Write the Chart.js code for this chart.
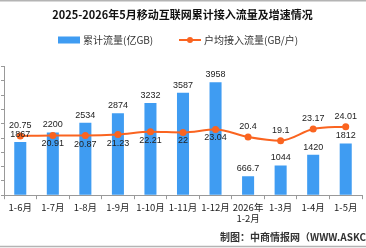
<!DOCTYPE html>
<html>
<head>
<meta charset="utf-8">
<script src="https://cdn.jsdelivr.net/npm/chart.js@4/dist/chart.umd.min.js"></script>
<style>
  html, body { margin: 0; padding: 0; background: #fff; }
  #wrap { width: 366px; height: 248px; position: relative; }
</style>
</head>
<body>
<div id="wrap"><canvas id="chart"></canvas></div>
<script>
// data
const categories = ['1-6月', '1-7月', '1-8月', '1-9月', '1-10月', '1-11月', '1-12月', ['2026年', '1-2月'], '1-3月', '1-4月', '1-5月'];
const trafficValues = [1867, 2200, 2534, 2874, 3232, 3587, 3958, 666.7, 1044, 1420, 1812];
const perUserValues = [20.75, 20.91, 20.87, 21.23, 22.21, 22, 23.04, 20.4, 19.1, 23.17, 24.01];
const seriesNames = ['累计流量(亿GB)', '户均接入流量(GB/户)'];
const titleText = '2025-2026年5月移动互联网累计接入流量及增速情况';
const footerText = '制图：中商情报网（WWW.ASKCI.COM）';

const BAR_COLOR = '#3f9cf2';
const LINE_COLOR = '#fa6420';
const FONT = '"Noto Sans CJK SC", "Liberation Sans", sans-serif';
const NUM_FONT = '"Liberation Sans", sans-serif';

// which line labels sit above the point (others go below)
const lineLabelAbove = [true, false, false, false, false, false, false, true, true, true, true];

const valueLabels = {
  id: 'valueLabels',
  afterDatasetsDraw(chart) {
    const ctx = chart.ctx;
    ctx.save();
    ctx.font = '9px ' + NUM_FONT;
    ctx.fillStyle = '#222';
    ctx.textAlign = 'center';
    chart.getDatasetMeta(0).data.forEach((el, i) => {
      ctx.textBaseline = 'bottom';
      ctx.fillText(String(trafficValues[i]), el.x, el.y - 3);
    });
    chart.getDatasetMeta(1).data.forEach((el, i) => {
      if (lineLabelAbove[i]) {
        ctx.textBaseline = 'bottom';
        ctx.fillText(String(perUserValues[i]), el.x, el.y - 6);
      } else {
        ctx.textBaseline = 'top';
        ctx.fillText(String(perUserValues[i]), el.x, el.y + 4);
      }
    });
    ctx.restore();
  }
};

// legend, frame lines and source note
const frame = {
  id: 'frame',
  beforeDraw(chart) {
    const ctx = chart.ctx;
    ctx.save();
    ctx.fillStyle = '#fff';
    ctx.fillRect(0, 0, chart.width, chart.height);
    ctx.restore();
  },
  afterDraw(chart) {
    const ctx = chart.ctx;
    ctx.save();
    ctx.strokeStyle = '#b4b4b4';
    ctx.lineWidth = 1.5;
    ctx.beginPath();
    ctx.moveTo(0, 0.75); ctx.lineTo(chart.width, 0.75);
    ctx.moveTo(0, 246.5); ctx.lineTo(chart.width, 246.5);
    ctx.stroke();

    // legend
    ctx.font = '10px ' + FONT;
    ctx.fillStyle = '#333';
    ctx.textBaseline = 'middle';
    ctx.textAlign = 'left';
    ctx.fillStyle = BAR_COLOR;
    ctx.fillRect(58, 36.5, 22, 7);
    ctx.fillStyle = '#333';
    ctx.fillText(seriesNames[0], 83, 40);
    ctx.strokeStyle = LINE_COLOR;
    ctx.lineWidth = 2;
    ctx.beginPath(); ctx.moveTo(179, 40); ctx.lineTo(201, 40); ctx.stroke();
    ctx.fillStyle = LINE_COLOR;
    ctx.beginPath(); ctx.arc(190, 40, 3, 0, Math.PI * 2); ctx.fill();
    ctx.fillStyle = '#333';
    ctx.fillText(seriesNames[1], 204, 40);

    ctx.font = 'bold 10px ' + FONT;
    ctx.fillStyle = '#333';
    ctx.fillText(footerText, 220, 237);
    ctx.restore();
  }
};

new Chart(document.getElementById('chart'), {
  data: {
    labels: categories,
    datasets: [
      {
        type: 'bar',
        label: seriesNames[0],
        data: trafficValues,
        yAxisID: 'y',
        backgroundColor: BAR_COLOR,
        categoryPercentage: 1,
        barPercentage: 0.37,
        order: 2
      },
      {
        type: 'line',
        label: seriesNames[1],
        data: perUserValues,
        yAxisID: 'y1',
        borderColor: LINE_COLOR,
        backgroundColor: LINE_COLOR,
        borderWidth: 2,
        pointRadius: 3.5,
        pointBackgroundColor: LINE_COLOR,
        pointBorderWidth: 0,
        tension: 0.4,
        cubicInterpolationMode: 'monotone',
        order: 1
      }
    ]
  },
  options: {
    responsive: true,
    maintainAspectRatio: false,
    animation: false,
    devicePixelRatio: 1,
    layout: { padding: { left: 0, right: 1, top: 0, bottom: 22 } },
    plugins: {
      title: {
        display: true,
        text: titleText,
        color: '#111',
        font: { family: FONT, size: 11, weight: 'bold' },
        padding: { top: 8, bottom: 45.5 }
      },
      legend: { display: false },
      tooltip: { enabled: false }
    },
    scales: {
      x: {
        grid: { drawOnChartArea: false, tickLength: 4, color: '#999', offset: true },
        border: { color: '#999' },
        ticks: {
          color: '#222',
          font: { family: FONT, size: 9.5 },
          maxRotation: 0,
          autoSkip: false,
          padding: 2
        }
      },
      y: {
        position: 'left',
        min: 0,
        max: 4500,
        ticks: { stepSize: 500, display: false },
        grid: { drawOnChartArea: false, tickLength: 3, color: '#999' },
        border: { color: '#999' }
      },
      y1: {
        display: false,
        min: 0,
        max: 45
      }
    }
  },
  plugins: [valueLabels, frame]
});
</script>
</body>
</html>
